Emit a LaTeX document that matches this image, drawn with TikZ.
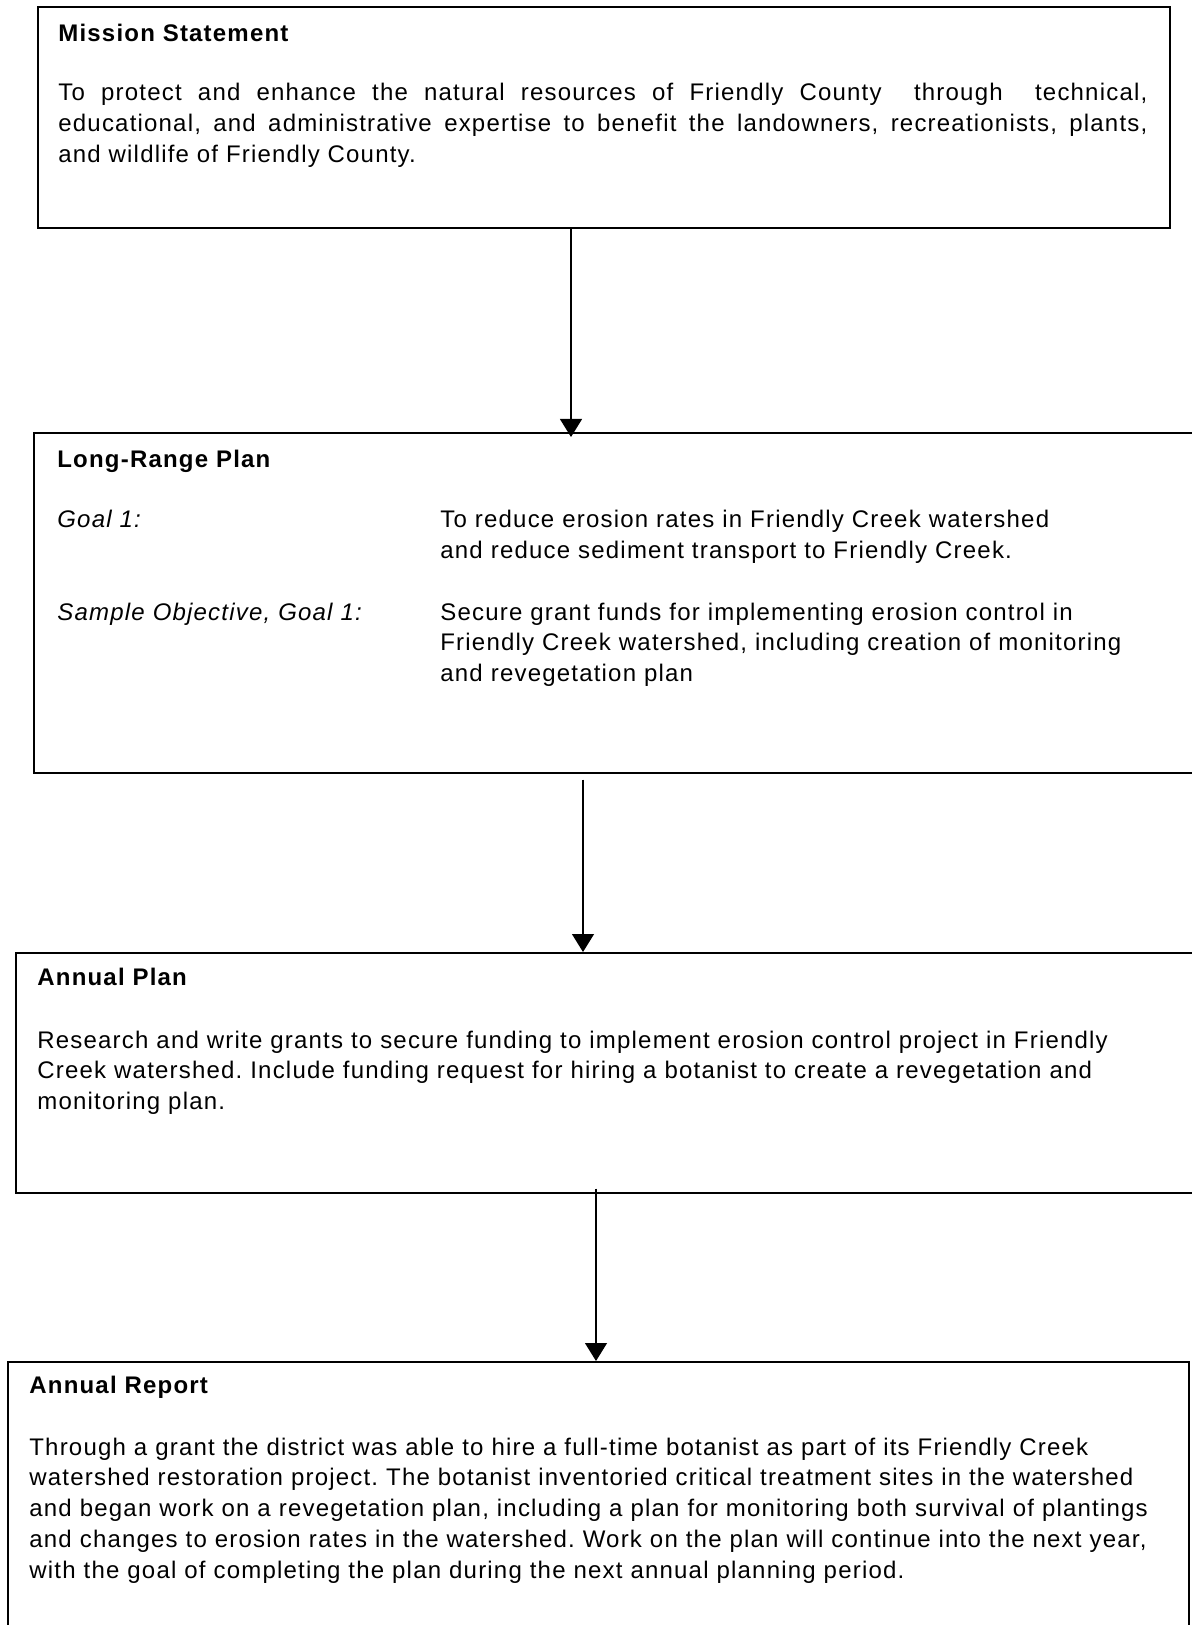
\documentclass[tikz,border=0pt]{standalone}
\usepackage{fontspec}
\setmainfont{Liberation Sans}[LetterSpace=5.0]
\frenchspacing
\usetikzlibrary{arrows.meta,positioning}
\tikzset{x=0.5pt, y=-0.5pt,
    panel/.style={draw, line width=0.8pt, rectangle, anchor=north west, inner sep=0pt},
    head/.style={font=\fontsize{12}{15.4}\selectfont\bfseries, anchor=base west, inner sep=0pt},
    body/.style={font=\fontsize{12}{15.4}\selectfont, anchor=base west, inner sep=0pt, align=left, text width=565pt},
    flowarrow/.style={-{Triangle[width=11pt,length=9pt]}, line width=0.6pt},
    }

\begin{document}
\begin{tikzpicture}
\useasboundingbox (0,0) rectangle (1191,1625);
% boxes
\node[panel, minimum width=566pt, minimum height=110.5pt] (mission) at (37,6) {};
\node[panel, minimum width=583.5pt, minimum height=170pt] (lrp) at (33,432) {};
\node[panel, minimum width=592.5pt, minimum height=120pt] (ap) at (15,952) {};
\node[panel, minimum width=590.5pt, minimum height=139.5pt] (ar) at (7,1361) {};
% Mission Statement
\node[head] (missionhead) at (58,42) {Mission Statement};
\node[body, text width=544.5pt, align=justify] (missiontext) at (58,101)
  {To protect and enhance the natural resources of Friendly County\ \ through\ \ technical,\linebreak
   educational, and administrative expertise to benefit the landowners, recreationists, plants,\linebreak
   and wildlife of Friendly County.};
% Long-Range Plan
\node[head] (lrphead) at (57,468) {Long-Range Plan};
\node[body, font=\fontsize{12}{15.4}\selectfont\itshape, text width=180pt] (goal) at (57,528) {Goal 1:};
\node[body, text width=370pt] (goaltext) at (440,528)
  {To reduce erosion rates in Friendly Creek watershed\\
   and reduce sediment transport to Friendly Creek.};
\node[body, font=\fontsize{12}{15.4}\selectfont\itshape, text width=180pt] (objective) at (57,620) {Sample Objective, Goal 1:};
\node[body, text width=370pt] (objectivetext) at (440,620)
  {Secure grant funds for implementing erosion control in\\
   Friendly Creek watershed, including creation of monitoring\\
   and revegetation plan};
% Annual Plan
\node[head] (aphead) at (37,985) {Annual Plan};
\node[body] (aptext) at (37,1048)
  {Research and write grants to secure funding to implement erosion control project in Friendly\\
   Creek watershed. Include funding request for hiring a botanist to create a revegetation and\\
   monitoring plan.};
% Annual Report
\node[head] (arhead) at (29,1393) {Annual Report};
\node[body] (artext) at (29,1455)
  {Through a grant the district was able to hire a full-time botanist as part of its Friendly Creek\\
   watershed restoration project. The botanist inventoried critical treatment sites in the watershed\\
   and began work on a revegetation plan, including a plan for monitoring both survival of plantings\\
   and changes to erosion rates in the watershed. Work on the plan will continue into the next year,\\
   with the goal of completing the plan during the next annual planning period.};
% arrows
\coordinate (a1) at (571,0);
\coordinate (a2) at (583,0);
\coordinate (a3) at (596,0);
\draw[flowarrow, shorten >=-2.5pt] (mission.south -| a1) -- (lrp.north -| a1);
\draw[flowarrow] ([yshift=-3pt]lrp.south -| a2) -- (ap.north -| a2);
\draw[flowarrow] ([yshift=2.5pt]ap.south -| a3) -- (ar.north -| a3);
\end{tikzpicture}
\end{document}
